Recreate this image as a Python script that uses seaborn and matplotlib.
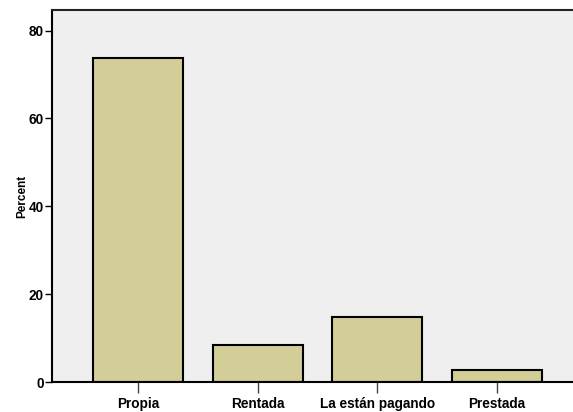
import matplotlib
matplotlib.use("Agg")
import matplotlib.pyplot as plt
import seaborn as sns
import pandas as pd

categories = ["Propia", "Rentada", "La están pagando", "Prestada"]
percents = [73.8, 8.5, 14.9, 2.8]
y_ticks = [0, 20, 40, 60, 80]

sns.set_style("white")
plt.rcParams['font.family'] = ['Liberation Sans', 'DejaVu Sans']
plt.rcParams['text.color'] = 'black'
plt.rcParams['axes.labelcolor'] = 'black'
plt.rcParams['xtick.color'] = 'black'
plt.rcParams['ytick.color'] = 'black'

fig = plt.figure(figsize=(5.73, 4.12), dpi=100)
W, H = 573, 412
left, right, top, bottom = 52, 583, 10, 382
ax = fig.add_axes([left / W, (H - bottom) / H, (right - left) / W, (bottom - top) / H])
ax.set_facecolor("#EFEFEF")

df = pd.DataFrame({"cat": categories, "pct": percents})
sns.barplot(data=df, x="cat", y="pct", ax=ax, color="#D3CE98", saturation=1,
            edgecolor="black", linewidth=1.5, width=0.75)

ax.set_xlim(-0.717, 3.717)
ax.set_ylim(0, 84.7)
ax.set_yticks(y_ticks)
ax.set_yticklabels([str(t) for t in y_ticks], fontsize=9.8, fontweight="bold")
ax.set_xticks(range(len(categories)))
ax.set_xticklabels(categories, fontsize=9.8, fontweight="bold")
ax.set_xlabel("")
ax.set_ylabel("Percent", fontsize=8.5, fontweight="bold", labelpad=0)

ax.tick_params(axis="y", direction="out", length=5, width=1, colors="black", pad=1, left=True)
ax.tick_params(axis="x", direction="out", length=8, width=1, color="#444444", labelcolor="black", pad=3, bottom=True)

for s in ["left", "bottom"]:
    ax.spines[s].set_color("black")
    ax.spines[s].set_linewidth(1.5)
ax.spines["top"].set_color("#222222")
ax.spines["top"].set_linewidth(1.5)
ax.spines["right"].set_visible(False)

fig.savefig("out.png", dpi=100, facecolor="white")
